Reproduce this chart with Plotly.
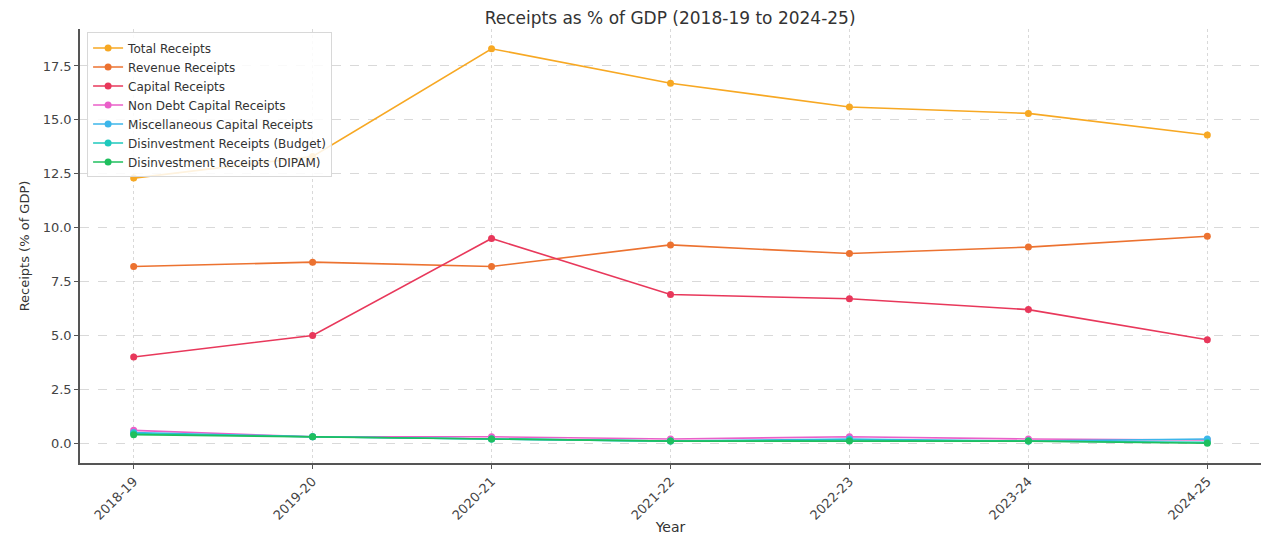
import plotly.graph_objects as go

years = ["2018-19", "2019-20", "2020-21", "2021-22", "2022-23", "2023-24", "2024-25"]
total_receipts = [12.3, 13.3, 18.3, 16.7, 15.6, 15.3, 14.3]
revenue_receipts = [8.2, 8.4, 8.2, 9.2, 8.8, 9.1, 9.6]
capital_receipts = [4.0, 5.0, 9.5, 6.9, 6.7, 6.2, 4.8]
non_debt_capital = [0.6, 0.3, 0.3, 0.2, 0.3, 0.2, 0.15]
misc_capital = [0.5, 0.3, 0.2, 0.1, 0.2, 0.1, 0.2]
disinvest_budget = [0.45, 0.3, 0.2, 0.1, 0.15, 0.1, 0.05]
disinvest_dipam = [0.4, 0.3, 0.2, 0.1, 0.1, 0.1, 0.0]

series = [
    ("Total Receipts", total_receipts, "#f7a823"),
    ("Revenue Receipts", revenue_receipts, "#ec7230"),
    ("Capital Receipts", capital_receipts, "#e8385b"),
    ("Non Debt Capital Receipts", non_debt_capital, "#ea5fc9"),
    ("Miscellaneous Capital Receipts", misc_capital, "#3cb6ea"),
    ("Disinvestment Receipts (Budget)", disinvest_budget, "#1ec9bd"),
    ("Disinvestment Receipts (DIPAM)", disinvest_dipam, "#1fbf5e"),
]

xs = list(range(len(years)))
fig = go.Figure()
for name, vals, col in series:
    fig.add_trace(go.Scatter(
        x=xs, y=vals, name=name, mode="lines+markers",
        line=dict(color=col, width=1.6),
        marker=dict(color=col, size=7),
    ))

font = "DejaVu Sans, Verdana, sans-serif"
fig.update_layout(
    width=1262, height=535,
    margin=dict(l=80, r=1, t=29, b=72),
    paper_bgcolor="white", plot_bgcolor="white",
    font=dict(family=font, size=12, color="#333333"),
    title=dict(text="Receipts as % of GDP (2018-19 to 2024-25)", x=0.531, xanchor="center",
               y=0.966, yanchor="middle", font=dict(size=17, color="#333333")),
    showlegend=True,
    legend=dict(x=0.006, y=0.992, xanchor="left", yanchor="top",
                bgcolor="rgba(255,255,255,0.85)", bordercolor="#d8d8d8", borderwidth=1,
                font=dict(size=12, color="#333333"), tracegroupgap=0,
                itemwidth=30),
)
fig.update_xaxes(
    range=[-0.3, 6.3], tickmode="array", tickvals=xs, ticktext=years,
    tickangle=-45, showgrid=True, gridcolor="#d9d9d9", griddash="dot", gridwidth=1,
    showline=True, linecolor="#555555", linewidth=1.5, ticks="outside", ticklen=4,
    tickcolor="#555555", zeroline=False,
    title=dict(text="Year", font=dict(size=14), standoff=2),
    tickfont=dict(size=13, color="#444444"),
)
fig.update_yaxes(
    range=[-0.915, 19.215], tickmode="array",
    tickvals=[0, 2.5, 5, 7.5, 10, 12.5, 15, 17.5],
    ticktext=["0.0", "2.5", "5.0", "7.5", "10.0", "12.5", "15.0", "17.5"],
    showgrid=True, gridcolor="#d9d9d9", griddash="dash", gridwidth=1,
    showline=True, linecolor="#555555", linewidth=1.5, ticks="outside", ticklen=4,
    tickcolor="#555555", zeroline=False,
    title=dict(text="Receipts (% of GDP)", font=dict(size=13), standoff=10),
    tickfont=dict(size=13, color="#444444"),
)
fig.write_html("out.html")
